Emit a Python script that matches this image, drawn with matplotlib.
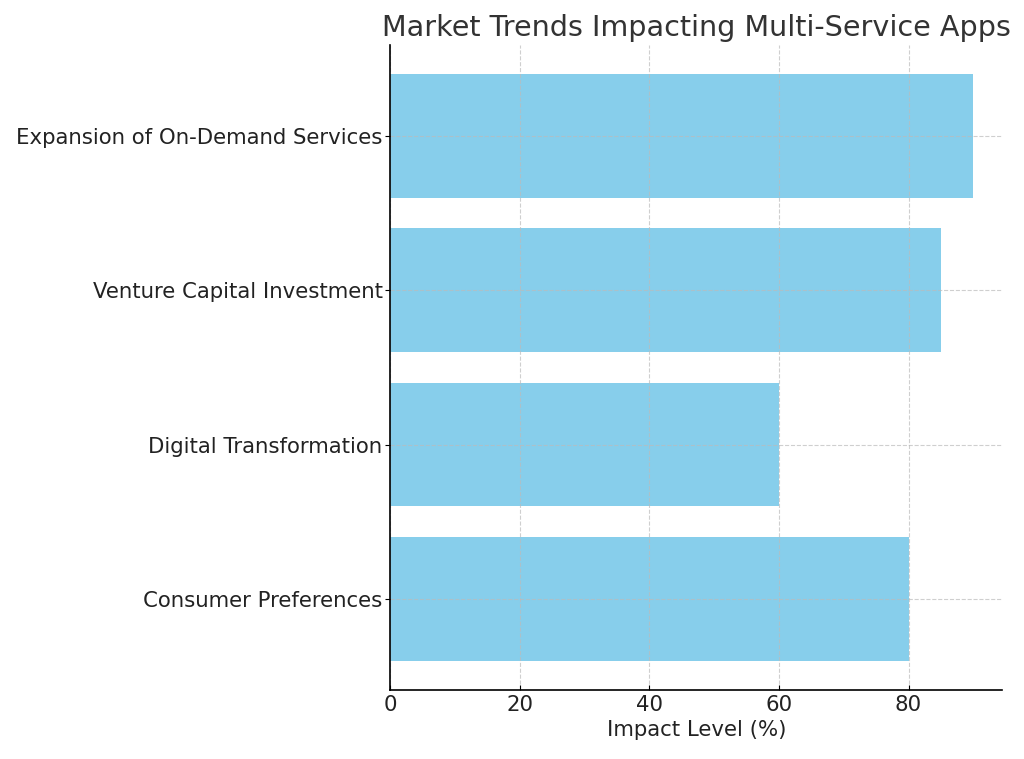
import matplotlib
matplotlib.use("Agg")
import matplotlib.pyplot as plt

categories = ["Consumer Preferences", "Digital Transformation",
              "Venture Capital Investment", "Expansion of On-Demand Services"]
impact = [80, 60, 85, 90]

plt.rcParams['font.family'] = ['DejaVu Sans']

fig = plt.figure(figsize=(10.24, 7.59), dpi=100)
ax = fig.add_axes([0.381, 0.091, 0.598, 0.85])
ax.barh(categories, impact, color='skyblue', height=0.8)
ax.set_title("Market Trends Impacting Multi-Service Apps", fontsize=20.6, color='#333333', pad=6)
ax.set_xlabel("Impact Level (%)", fontsize=15.3, color='#222222')
ax.grid(True, linestyle='--', color='#bbbbbb', linewidth=0.8, alpha=0.7)
ax.spines['top'].set_visible(False)
ax.spines['right'].set_visible(False)
for s in ('left', 'bottom'):
    ax.spines[s].set_linewidth(1.2)
ax.tick_params(axis='x', labelsize=15.3, direction='in', labelcolor='#222222')
ax.tick_params(axis='y', labelsize=15.3, pad=2, labelcolor='#222222')
fig.savefig("out.png", dpi=100)
